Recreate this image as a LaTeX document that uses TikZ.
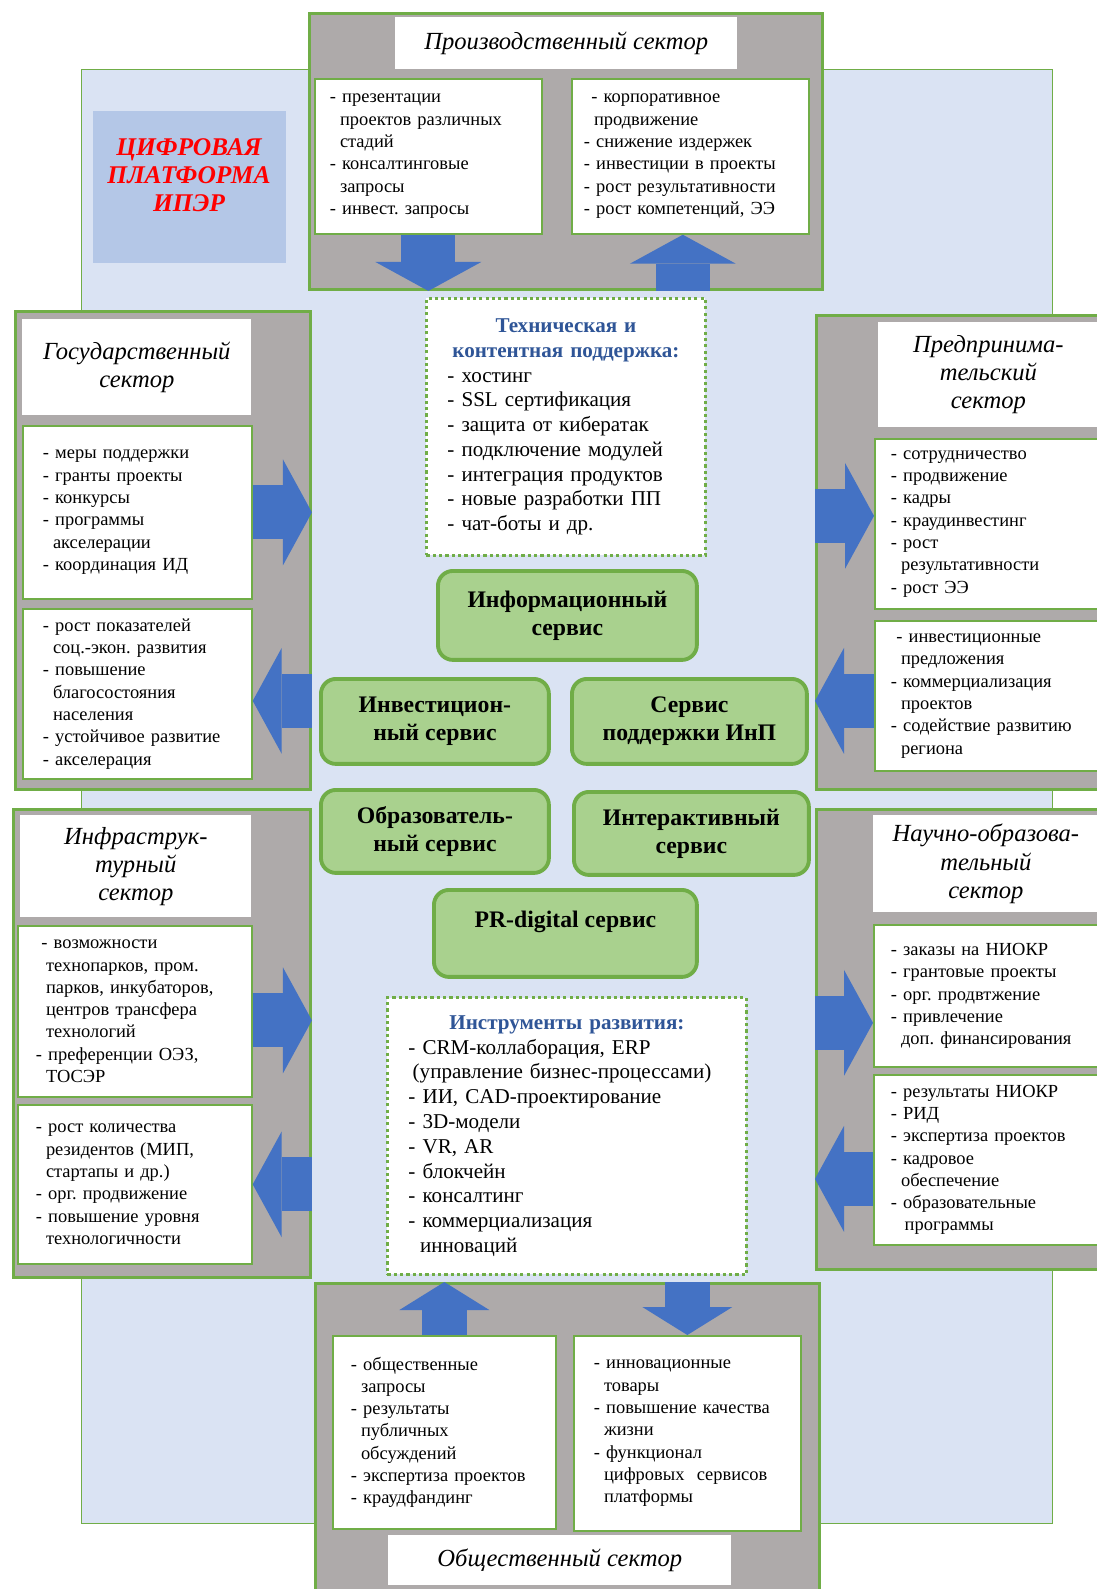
\documentclass[tikz,border=0pt]{standalone}
\usepackage{fontspec}
\setmainfont{Liberation Serif}
\usepackage{tikz}
\usetikzlibrary{arrows.meta}
\frenchspacing

\definecolor{grn}{HTML}{70AD47}
\definecolor{bgblue}{HTML}{DAE3F3}
\definecolor{secgray}{HTML}{AEAAAA}
\definecolor{arblue}{HTML}{4472C4}
\definecolor{srvgreen}{HTML}{A9D18E}
\definecolor{iprblue}{HTML}{B4C7E7}
\definecolor{hdblue}{HTML}{2F5597}

\newcommand{\tabin}{\hspace*{0.55em}}

\tikzset{
  bgbox/.style={draw=grn,line width=0.8pt,fill=bgblue,anchor=north west,inner sep=0pt,
    minimum width=19.42cm,minimum height=29.08cm},
  iprbox/.style={fill=iprblue,anchor=north west,inner sep=0pt,
    minimum width=3.86cm,minimum height=3.04cm},
  iprtext/.style={align=center,text=red,font=\fontsize{14.5}{16}\selectfont\bfseries\itshape},
  sector/.style={draw=grn,line width=1.7pt,fill=secgray,anchor=north west,inner sep=0pt},
  sectitle/.style={fill=white,anchor=north west,inner sep=0pt,align=center,
    font=\fontsize{14}{16}\selectfont\itshape},
  listbox/.style={draw=grn,line width=1pt,fill=white,anchor=north west,inner sep=0pt,
    align=left,font=\fontsize{10.5}{12.7}\selectfont},
  dotbox/.style={draw=grn,line width=1.7pt,dash pattern=on 1.8pt off 1.8pt,fill=white,
    anchor=north west,inner sep=0pt,align=left,font=\fontsize{12}{14.1}\selectfont},
  service/.style={draw=grn,line width=2.2pt,fill=srvgreen,rounded corners=0.3cm,
    anchor=north west,inner sep=0pt,align=center,font=\fontsize{13.5}{16}\selectfont\bfseries},
  bigarrow/.style={draw=arblue,line width=1.08cm,
    -{Triangle[length=0.58cm,width=2.12cm,line width=0pt]}},
  smallarrow/.style={draw=arblue,line width=0.9cm,
    -{Triangle[length=0.56cm,width=1.8cm,line width=0pt]}}
}

\begin{document}
\begin{tikzpicture}[x=0.02cm,y=-0.02cm]
\useasboundingbox (0,0) rectangle (1097,1589);

\node [bgbox] (bg) at(81,69){};
\node [iprbox] (ipr) at(93,111){};
\node [iprtext] (iprt) at(189,175){ЦИФРОВАЯ\\ПЛАТФОРМА\\ИПЭР};

% production sector
\node [sector,minimum width=10.26cm,minimum height=5.52cm] (prod) at(308,12){};
\node [sectitle,minimum width=6.84cm,minimum height=1.04cm] (prodt) at(395,17){Производственный сектор};
\node [listbox,minimum width=4.54cm,minimum height=3.1cm,text width=3.94cm] (prod1) at(314,78){- презентации\\ \tabin проектов различных\\ \tabin стадий\\ - консалтинговые\\ \tabin запросы\\ - инвест. запросы};
\node [listbox,minimum width=4.74cm,minimum height=3.1cm,text width=4.26cm] (prod2) at(571,78){\hspace*{0.4em}- корпоративное\\ \tabin продвижение\\ - снижение издержек\\ - инвестиции в проекты\\ - рост результативности\\ - рост компетенций, ЭЭ};

% state sector
\node [sector,minimum width=5.9cm,minimum height=9.56cm] (gov) at(14,310){};
\node [sectitle,minimum width=4.58cm,minimum height=1.92cm] (govt) at(22,319){Государственный\\сектор};
\node [listbox,minimum width=4.58cm,minimum height=3.46cm,text width=3.78cm] (gov1) at(22,425){- меры поддержки\\ - гранты проекты\\ - конкурсы\\ - программы\\ \tabin акселерации\\ - координация ИД};
\node [listbox,minimum width=4.58cm,minimum height=3.4cm,text width=3.78cm] (gov2) at(22,608){- рост показателей\\ \tabin соц.-экон. развития\\ - повышение\\ \tabin благосостояния\\ \tabin населения\\ - устойчивое развитие\\ - акселерация};

% infrastructure sector
\node [sector,minimum width=5.94cm,minimum height=9.36cm] (inf) at(12,808){};
\node [sectitle,minimum width=4.62cm,minimum height=2.04cm] (inft) at(20,815){Инфраструк-\\турный\\сектор};
\node [listbox,minimum width=4.68cm,minimum height=3.42cm,text width=3.96cm] (inf1) at(17,925){\hspace*{0.3em}- возможности\\ \tabin технопарков, пром.\\ \tabin парков, инкубаторов,\\ \tabin центров трансфера\\ \tabin технологий\\ - преференции ОЭЗ,\\ \tabin ТОСЭР};
\node [listbox,minimum width=4.68cm,minimum height=3.18cm,text width=3.96cm] (inf2) at(17,1104){- рост количества\\ \tabin резидентов (МИП,\\ \tabin стартапы и др.)\\ - орг. продвижение\\ - повышение уровня\\ \tabin технологичности};

% business sector
\node [sector,minimum width=5.9cm,minimum height=9.48cm] (ent) at(815,314){};
\node [sectitle,minimum width=4.4cm,minimum height=2.1cm] (entt) at(878,322){Предпринима-\\тельский\\сектор};
\node [listbox,minimum width=4.48cm,minimum height=3.4cm,text width=3.84cm] (ent1) at(874,438){- сотрудничество\\ - продвижение\\ - кадры\\ - краудинвестинг\\ - рост\\ \tabin результативности\\ - рост ЭЭ};
\node [listbox,minimum width=4.48cm,minimum height=3cm,text width=3.84cm] (ent2) at(874,620){\hspace*{0.3em}- инвестиционные\\ \tabin предложения\\ - коммерциализация\\ \tabin проектов\\ - содействие развитию\\ \tabin региона};

% science sector
\node [sector,minimum width=5.9cm,minimum height=9.2cm] (sci) at(815,808){};
\node [sectitle,minimum width=4.5cm,minimum height=1.94cm] (scit) at(873,815){Научно-образова-\\тельный\\сектор};
\node [listbox,minimum width=4.5cm,minimum height=2.84cm,text width=3.82cm] (sci1) at(873,924){- заказы на НИОКР\\ - грантовые проекты\\ - орг. продвтжение\\ - привлечение\\ \tabin доп. финансирования};
\node [listbox,minimum width=4.5cm,minimum height=3.4cm,text width=3.82cm] (sci2) at(873,1074){- результаты НИОКР\\ - РИД\\ - экспертиза проектов\\ - кадровое\\ \tabin обеспечение\\ - образовательные\\ \tabin\hspace*{0.2em}программы};

% public sector
\node [sector,minimum width=10.08cm,minimum height=6.4cm] (soc) at(314,1282){};
\node [listbox,minimum width=4.46cm,minimum height=3.86cm,text width=3.74cm] (soc1) at(332,1335){- общественные\\ \tabin запросы\\ - результаты\\ \tabin публичных\\ \tabin обсуждений\\ - экспертиза проектов\\ - краудфандинг};
\node [listbox,minimum width=4.54cm,minimum height=3.9cm,text width=3.74cm] (soc2) at(573,1335){- инновационные\\ \tabin товары\\ - повышение качества\\ \tabin жизни\\ - функционал\\ \tabin цифровых\ \ сервисов\\ \tabin платформы};
\node [sectitle,minimum width=6.86cm,minimum height=1cm] (soct) at(388,1535){Общественный сектор};

% platform services
\node [dotbox,minimum width=5.58cm,minimum height=5.14cm,text width=4.74cm] (tech) at(425,297){{\centering\color{hdblue}\bfseries Техническая и\\ контентная поддержка:\par}- хостинг\\ - SSL сертификация\\ - защита от кибератак\\ - подключение модулей\\ - интеграция продуктов\\ - новые разработки ПП\\ - чат-боты и др.};
\node [service,minimum width=5.18cm,minimum height=1.78cm] (info) at(436,569){Информационный\\сервис};
\node [service,minimum width=4.56cm,minimum height=1.7cm] (invest) at(319,677){Инвестицион-\\ный сервис};
\node [service,minimum width=4.7cm,minimum height=1.7cm] (supp) at(570,677){Сервис\\поддержки ИнП};
\node [service,minimum width=4.56cm,minimum height=1.66cm] (edu) at(319,788){Образователь-\\ный сервис};
\node [service,minimum width=4.7cm,minimum height=1.66cm] (inter) at(572,790){Интерактивный\\сервис};
\node [service,minimum width=5.26cm,minimum height=1.74cm] (pr) at(432,888){PR-digital сервис\\ \mbox{}};
\node [dotbox,minimum width=7.18cm,minimum height=5.54cm,text width=6.34cm] (tools) at(386,996){{\centering\color{hdblue}\bfseries Инструменты развития:\par}- CRM-коллаборация, ERP\\ \hspace*{0.2em}(управление бизнес-процессами)\\ - ИИ, CAD-проектирование\\ - 3D-модели\\ - VR, AR\\ - блокчейн\\ - консалтинг\\ - коммерциализация\\ \tabin инноваций};

% arrows
\coordinate (p2) at ([xshift=-0.15cm]prod2.south);
\coordinate (g2) at ([yshift=-0.14cm]gov2.east);
\coordinate (i1) at ([yshift=-0.18cm]inf1.east);
\coordinate (e1) at ([yshift=0.16cm]ent1.west);
\coordinate (e2) at ([yshift=-0.1cm]ent2.west);
\coordinate (s1) at ([yshift=-0.54cm]sci1.west);
\coordinate (s2) at ([yshift=-0.38cm]sci2.west);

\draw [bigarrow] (prod1.south) -- (prod.south -| prod1.south);
\draw [bigarrow] (prod.south -| p2) -- (p2);
\draw [bigarrow] (gov1.east) -- (gov.east |- gov1.east);
\draw [bigarrow] (gov.east |- g2) -- (g2);
\draw [bigarrow] (i1) -- (inf.east |- i1);
\draw [bigarrow] (inf.east |- inf2.east) -- (inf2.east);
\draw [bigarrow] (ent.west |- e1) -- (e1);
\draw [bigarrow] (e2) -- (ent.west |- e2);
\draw [bigarrow] (sci.west |- s1) -- (s1);
\draw [bigarrow] (s2) -- (sci.west |- s2);
\draw [smallarrow] (soc1.north) -- (soc.north -| soc1.north);
\draw [smallarrow] (soc.north -| soc2.north) -- (soc2.north);
\end{tikzpicture}
\end{document}
